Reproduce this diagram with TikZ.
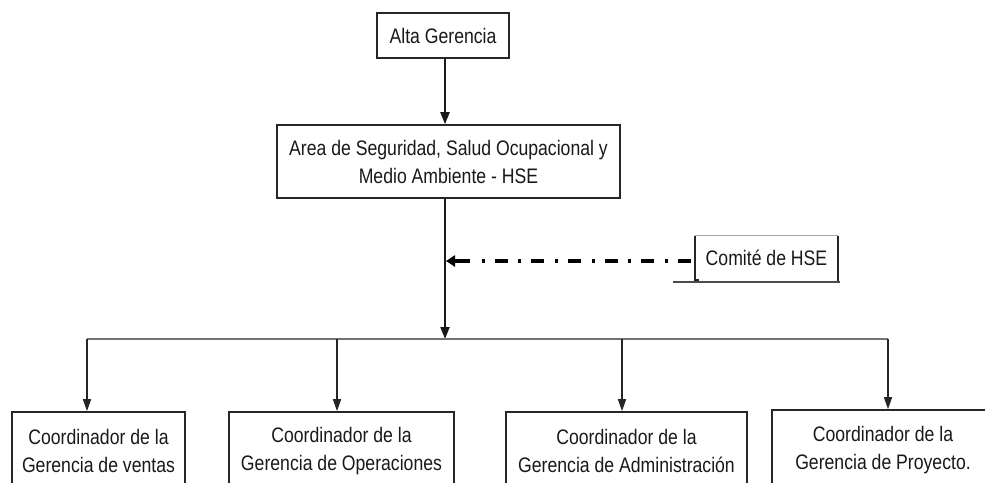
\documentclass[tikz,border=0pt]{standalone}
\usepackage{fontspec}
\setmainfont{Liberation Sans}[FakeStretch=0.84]
\usetikzlibrary{arrows.meta}

\tikzset{
  unitbox/.style={draw=black!85, line width=1.6pt, align=center, inner sep=0pt,
    font=\fontsize{21}{28}\selectfont, text=black!90},
  mainline/.style={draw=black!90, line width=2pt},
  mainarrow/.style={mainline, -{Triangle[length=12pt,width=9pt]}},
  busline/.style={draw=black!55, line width=2pt},
  droparrow/.style={draw=black!85, line width=1.4pt, -{Triangle[length=12pt,width=8pt]}},
  advisory/.style={draw=black, line width=4pt, dash pattern=on 13pt off 10pt on 3pt off 10.6pt},
  advisorytip/.style={draw=black, line width=4pt, -{Triangle[length=9pt,width=11pt]}},
}

\begin{document}
\begin{tikzpicture}[x=1pt, y=-1pt]
  \clip (0,0) rectangle (985,482);
  \fill[white] (0,0) rectangle (985,482);

  % top of the hierarchy
  \node[unitbox, minimum width=132pt, minimum height=45pt] (alta) at (443,35.5) {Alta Gerencia};
  \node[unitbox, minimum width=343pt, minimum height=73pt] (hse) at (448.5,161.5)
    {Area de Seguridad, Salud Ocupacional y\\Medio Ambiente - HSE};

  % junctions on the trunk
  \coordinate (bus) at (445,339);
  \coordinate (hook) at (446,261);

  % coordinators (boxes run past the lower edge)
  \node[unitbox, minimum width=173pt, minimum height=78pt] (c1) at (98.5,451) {Coordinador de la\\Gerencia de ventas};
  \node[unitbox, minimum width=225pt, minimum height=78pt] (c2) at (341.5,451) {Coordinador de la\\Gerencia de Operaciones};
  \node[unitbox, minimum width=241pt, minimum height=78pt] (c3) at (626.5,451) {Coordinador de la\\Gerencia de Administración};
  \node[unitbox, minimum width=222pt, minimum height=80pt] (c4) at (883,450) {Coordinador de la\\Gerencia de Proyecto.};

  % committee box with open bracket-like frame and offset underline
  \node[align=center, inner sep=0pt, minimum width=143pt, minimum height=44pt,
        font=\fontsize{21}{28}\selectfont, text=black!90] (comite) at (766.5,258) {Comité de HSE};
  \draw[black!35, line width=1pt] (comite.north west) -- (comite.north east);
  \draw[black!85, line width=1.6pt] (comite.north west) -- (comite.south west) -- ++(4pt,0);
  \draw[black!85, line width=1.6pt] (comite.north east) -- ([yshift=-2pt]comite.south east) -- ++(-4pt,0);
  \draw[black!70, line width=1.8pt] ([xshift=-22pt,yshift=-2pt]comite.south west) -- ([xshift=2pt,yshift=-2pt]comite.south east);

  % trunk
  \draw[mainarrow] (alta.south -| bus) -- (hse.north -| bus);
  \draw[mainarrow] (hse.south -| bus) -- (bus);

  % advisory link from the committee
  \draw[advisory] ([xshift=-4pt]comite.west |- hook) -- ([xshift=30pt]hook);
  \draw[advisorytip] ([xshift=24pt]hook) -- (hook);

  % distribution bus and drops
  \coordinate (j1) at (87,339);
  \coordinate (j2) at (337,339);
  \coordinate (j3) at (622,339);
  \coordinate (j4) at (888,339);
  \draw[busline] (j1) -- (j4);
  \draw[droparrow] (j1) -- (j1 |- c1.north);
  \draw[droparrow] (j2) -- (j2 |- c2.north);
  \draw[droparrow] (j3) -- (j3 |- c3.north);
  \draw[droparrow] (j4) -- (j4 |- c4.north);
\end{tikzpicture}
\end{document}
